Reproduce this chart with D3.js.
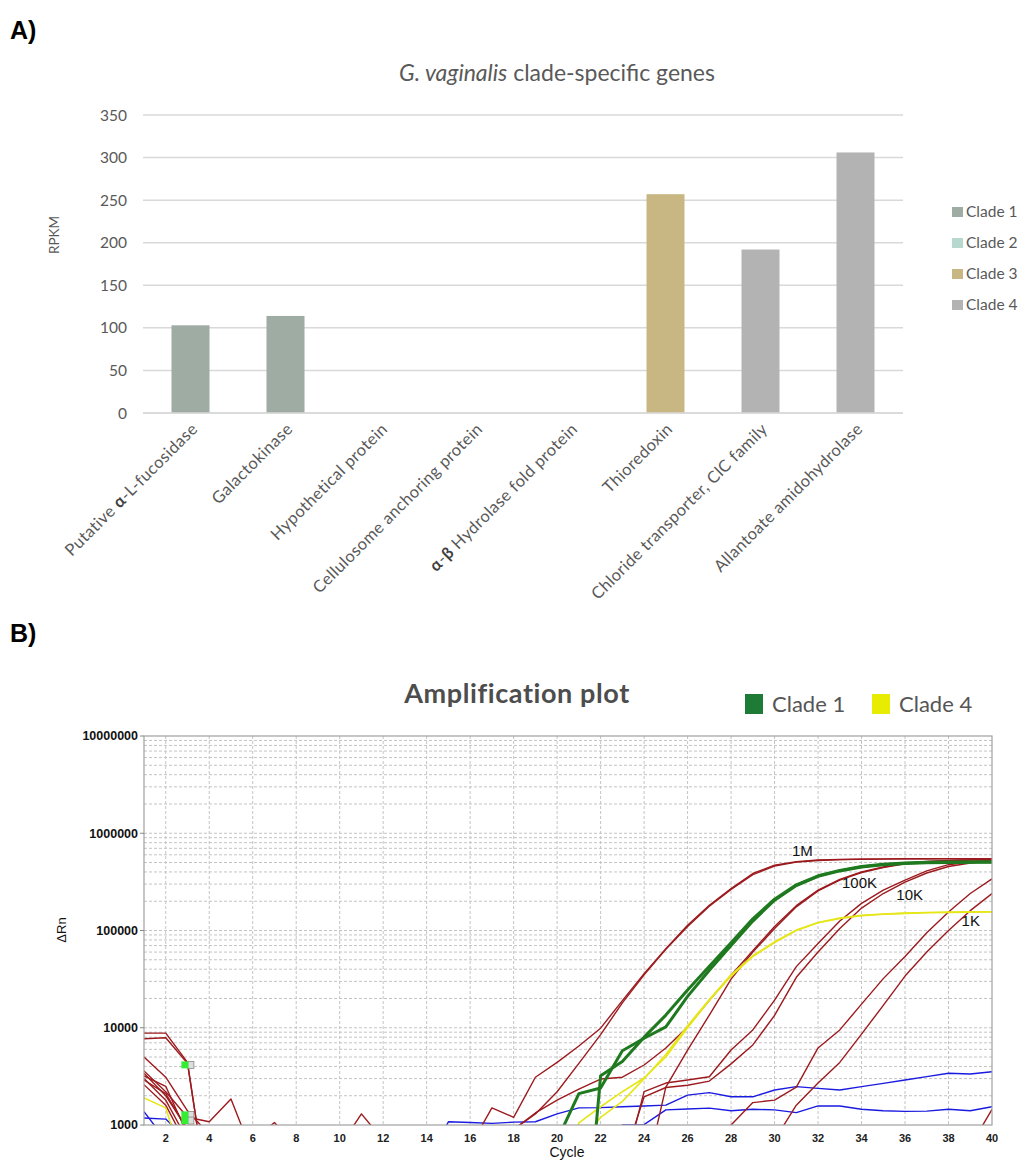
<!DOCTYPE html>
<html>
<head>
<meta charset="utf-8">
<script src="https://d3js.org/d3.v7.min.js"></script>
<style>
  body { margin: 0; background: #fff; }
  text { font-family: Lato, "Open Sans", sans-serif; }
  .b text { font-family: "Liberation Sans", Arial, sans-serif; }
</style>
</head>
<body>
<svg id="fig" width="1022" height="1160"></svg>
<script>
// ---------- panel A data ----------
var genes = ["Putative α-L-fucosidase", "Galactokinase", "Hypothetical protein",
  "Cellulosome anchoring protein", "α-β Hydrolase fold protein", "Thioredoxin",
  "Chloride transporter, ClC family", "Allantoate amidohydrolase"];
var rpkm = [103, 114, 0, 0, 0, 257, 192, 306];
var geneClade = ["Clade 1", "Clade 1", "Clade 2", "Clade 2", "Clade 2", "Clade 3", "Clade 4", "Clade 4"];
var clades = ["Clade 1", "Clade 2", "Clade 3", "Clade 4"];
var cladeColors = ["#9eaca4", "#b7d8cf", "#c9b783", "#b3b3b3"];
var rpkmTicks = [0, 50, 100, 150, 200, 250, 300, 350];

// ---------- panel B data (ΔRn per cycle 1..40) ----------
var cycles = d3.range(1, 41);
var cycleTicks = [2, 4, 6, 8, 10, 12, 14, 16, 18, 20, 22, 24, 26, 28, 30, 32, 34, 36, 38, 40];
var rnTicks = [1000, 10000, 100000, 1000000, 10000000];

var red1Ma = [8800, 8800, 4400, 150, 500, 500, 500, 500, 500, 500, 500, 500, 500, 500, 500, 600, 1500, 1200, 3100, 4400,
  6500, 9900, 19000, 36000, 65000, 113000, 182000, 270000, 386000, 470000, 510000, 530000, 538000, 542000, 545000, 546000, 547000, 548000, 548000, 548000];
var red1Mb = [7700, 7900, 4300, 150, 500, 700, 1060, 600, 500, 500, 500, 500, 500, 500, 500, 500, 500, 900, 1300, 2200,
  4300, 8500, 18000, 35000, 64000, 110000, 178000, 265000, 375000, 460000, 505000, 525000, 535000, 540000, 542000, 545000, 545000, 545000, 545000, 545000];
var red100Ka = [5000, 3100, 1400, 800, 500, 500, 500, 500, 500, 500, 500, 500, 500, 500, 500, 500, 500, 900, 1330, 1800,
  2340, 2970, 3100, 4140, 6190, 10200, 19200, 34600, 62000, 110000, 180000, 260000, 335000, 400000, 450000, 490000, 512000, 525000, 532000, 535000];
var red100Kb = [3600, 2200, 1200, 1080, 1850, 500, 500, 500, 500, 500, 500, 500, 500, 500, 500, 500, 500, 500, 500, 500,
  500, 500, 500, 260, 2450, 5900, 13500, 31600, 60000, 105000, 175000, 255000, 330000, 395000, 445000, 485000, 510000, 522000, 530000, 533000];
var red10Ka = [3400, 2000, 900, 500, 500, 500, 500, 500, 500, 600, 1300, 700, 500, 500, 500, 500, 500, 500, 500, 500,
  500, 500, 300, 2200, 2700, 2900, 3130, 5900, 9500, 19200, 42500, 73500, 125000, 190000, 260000, 330000, 410000, 475000, 510000, 528000];
var red10Kb = [3200, 2500, 800, 500, 500, 500, 500, 500, 500, 500, 500, 500, 500, 500, 500, 500, 500, 500, 500, 500,
  500, 500, 400, 1950, 2430, 2560, 2830, 4250, 6660, 13400, 33000, 60000, 105000, 170000, 240000, 315000, 390000, 455000, 495000, 520000];
var red1Ka = [3000, 1800, 700, 500, 500, 500, 500, 500, 500, 500, 500, 500, 500, 500, 500, 500, 500, 500, 500, 500,
  500, 500, 500, 500, 500, 500, 300, 1000, 1700, 1800, 2450, 6200, 9500, 17500, 32000, 54000, 95000, 155000, 240000, 340000];
var red1Kb = [2600, 1600, 600, 500, 500, 500, 500, 500, 500, 500, 500, 500, 500, 500, 500, 500, 500, 500, 500, 500,
  500, 500, 500, 500, 500, 500, 500, 500, 500, 700, 1600, 2700, 4400, 8600, 17000, 34000, 60000, 100000, 160000, 240000];
var redNtc = [2900, 2100, 900, 500, 500, 500, 500, 500, 500, 500, 500, 500, 500, 500, 500, 500, 500, 500, 500, 500,
  500, 500, 500, 500, 500, 500, 500, 500, 500, 500, 500, 500, 500, 500, 500, 500, 500, 500, 600, 1450];
var greenA = [500, 500, 500, 500, 500, 500, 500, 500, 500, 500, 500, 500, 500, 500, 500, 500, 500, 500, 500, 700,
  2100, 2400, 5800, 7800, 10200, 21000, 39000, 70000, 125000, 205000, 290000, 360000, 410000, 450000, 475000, 490000, 497000, 500000, 502000, 503000];
var greenB = [500, 500, 500, 500, 500, 500, 500, 500, 500, 500, 500, 500, 500, 500, 500, 500, 500, 500, 500, 500,
  10, 3200, 4500, 8000, 13500, 24500, 43000, 75000, 132000, 210000, 295000, 365000, 415000, 455000, 480000, 495000, 502000, 505000, 507000, 508000];
var yellowA = [1900, 1500, 300, 500, 500, 500, 500, 500, 500, 500, 500, 500, 500, 500, 500, 500, 500, 500, 500, 200,
  1050, 1540, 2200, 3040, 5000, 10000, 19200, 34000, 54000, 75000, 100000, 120000, 133000, 142000, 147000, 150000, 152000, 153000, 154000, 155000];
var yellowB = [500, 500, 500, 500, 500, 500, 500, 500, 500, 500, 500, 500, 500, 500, 500, 500, 500, 500, 500, 500,
  600, 1200, 1750, 3000, 5300, 10500, 19500, 35000, 55000, 76500, 101000, 121000, 134000, 143000, 148000, 151000, 153000, 155000, 156000, 156000];
var blueA = [1370, 700, 500, 500, 500, 500, 500, 500, 500, 500, 500, 500, 500, 400, 1080, 1060, 1040, 1070, 1080, 1300,
  1500, 1510, 1540, 1570, 1600, 2030, 2150, 1950, 1950, 2290, 2480, 2380, 2290, 2480, 2680, 2900, 3140, 3400, 3340, 3530];
var blueB = [1180, 1150, 700, 500, 500, 500, 500, 500, 500, 500, 500, 500, 500, 500, 500, 500, 500, 500, 500, 500,
  500, 500, 1000, 1010, 1430, 1460, 1490, 1400, 1450, 1430, 1340, 1570, 1570, 1450, 1400, 1380, 1390, 1450, 1400, 1540];

var redCurves = [red1Ma, red1Mb, red100Ka, red100Kb, red10Ka, red10Kb, red1Ka, red1Kb, redNtc];
var blueCurves = [blueA, blueB];
var yellowCurves = [yellowA, yellowB];
var greenCurves = [greenA, greenB];

var doseLabels = ["1M", "100K", "10K", "1K"];
var doseCycle = [30.8, 33.1, 35.6, 38.6];
var doseValue = [580000, 273000, 205000, 111000];

var markerCycle = [2.88, 2.88, 2.88];
var markerValue = [4150, 1270, 1110];

var svg = d3.select("#fig");

// ================= PANEL A =================
svg.append("text").attr("x", 10).attr("y", 39)
  .style("font-family", "'Liberation Sans', Arial, sans-serif")
  .style("font-weight", "bold").style("font-size", "25px").text("A)");

var ttl = svg.append("text").attr("x", 557).attr("y", 81)
  .attr("text-anchor", "middle").style("font-size", "23px").style("fill", "#595959");
ttl.append("tspan").style("font-style", "italic").text("G. vaginalis");
ttl.append("tspan").text(" clade-specific genes");

var xa = d3.scaleBand().domain(genes).range([143, 903]).paddingInner(0.6).paddingOuter(0.3);
var ya = d3.scaleLinear().domain([0, 350]).range([413, 115]);
var cladeColor = d3.scaleOrdinal().domain(clades).range(cladeColors);

var ga = svg.append("g");
ga.selectAll(".grid").data(rpkmTicks).enter().append("line")
  .attr("x1", 143).attr("x2", 903)
  .attr("y1", function(d) { return ya(d); }).attr("y2", function(d) { return ya(d); })
  .attr("stroke", "#d9d9d9").attr("stroke-width", 1.5);

ga.selectAll(".ylab").data(rpkmTicks).enter().append("text")
  .attr("x", 127).attr("y", function(d) { return ya(d); }).attr("dy", "0.36em")
  .attr("text-anchor", "end").style("font-size", "15.5px").style("fill", "#595959")
  .text(function(d) { return d; });

ga.selectAll(".bar").data(genes).enter().append("rect")
  .attr("x", function(d) { return xa(d); })
  .attr("width", xa.bandwidth())
  .attr("y", function(d, i) { return ya(rpkm[i]); })
  .attr("height", function(d, i) { return ya(0) - ya(rpkm[i]); })
  .attr("fill", function(d, i) { return cladeColor(geneClade[i]); });

ga.append("line").attr("x1", 143).attr("x2", 903).attr("y1", ya(0)).attr("y2", ya(0))
  .attr("stroke", "#d9d9d9").attr("stroke-width", 1.5);

ga.selectAll(".xlab").data(genes).enter().append("text")
  .attr("transform", function(d) { return "translate(" + (xa(d) + xa.bandwidth() / 2 + 4) + ",426) rotate(-45)"; })
  .attr("text-anchor", "end").attr("dy", "0.35em")
  .style("font-size", "16.5px").style("letter-spacing", "0.4px").style("fill", "#595959")
  .each(function(d) {
    var t = d3.select(this);
    d.split(/([αβ])/).forEach(function(part) {
      if (!part) return;
      var sp = t.append("tspan").text(part);
      if (part === "α" || part === "β") sp.style("font-weight", "bold").style("fill", "#404040");
    });
  });

svg.append("text").attr("transform", "translate(59,235) rotate(-90)")
  .attr("text-anchor", "middle").style("font-size", "13.5px").style("fill", "#595959").text("RPKM");

var lg = svg.append("g");
clades.forEach(function(c, i) {
  lg.append("rect").attr("x", 952).attr("y", 207 + i * 31).attr("width", 11).attr("height", 10)
    .attr("fill", cladeColors[i]);
  lg.append("text").attr("x", 966).attr("y", 212 + i * 31).attr("dy", "0.35em")
    .style("font-size", "15.5px").style("fill", "#595959").text(c);
});

// ================= PANEL B =================
svg.append("text").attr("x", 10).attr("y", 642)
  .style("font-family", "'Liberation Sans', Arial, sans-serif")
  .style("font-weight", "bold").style("font-size", "25px").text("B)");

svg.append("text").attr("x", 517).attr("y", 703).attr("text-anchor", "middle")
  .style("font-size", "27px").style("font-weight", "bold").style("letter-spacing", "0.6px")
  .style("fill", "#4d4d4d")
  .text("Amplification plot");

var legB = [["Clade 1", "#1e7b35", 745], ["Clade 4", "#e8ec00", 872]];
legB.forEach(function(l) {
  svg.append("rect").attr("x", l[2]).attr("y", 694).attr("width", 18).attr("height", 20).attr("fill", l[1]);
  svg.append("text").attr("x", l[2] + 27).attr("y", 712)
    .style("font-size", "22px").style("fill", "#555").text(l[0]);
});

var xb = d3.scaleLinear().domain([1, 40]).range([144, 992]);
var yb = d3.scaleLog().domain([1000, 10000000]).range([1125, 736]);

var gb = svg.append("g").attr("class", "b");

// grid
var minor = yb.ticks().filter(function(v) { return v > 1000 && v < 10000000; });
gb.selectAll(".hg").data(minor).enter().append("line")
  .attr("x1", xb(1)).attr("x2", xb(40))
  .attr("y1", function(d) { return yb(d); }).attr("y2", function(d) { return yb(d); })
  .attr("stroke", "#c4c4c4").attr("stroke-dasharray", "3,2");
gb.selectAll(".vg").data(cycleTicks.filter(function(c) { return c < 40; })).enter().append("line")
  .attr("x1", function(d) { return xb(d); }).attr("x2", function(d) { return xb(d); })
  .attr("y1", yb(10000000)).attr("y2", yb(1000))
  .attr("stroke", "#c4c4c4").attr("stroke-dasharray", "3,2");

gb.append("clipPath").attr("id", "plotclip").append("rect")
  .attr("x", xb(1)).attr("y", yb(10000000))
  .attr("width", xb(40) - xb(1)).attr("height", yb(1000) - yb(10000000));

var line = d3.line()
  .x(function(d, i) { return xb(cycles[i]); })
  .y(function(d) { return yb(d); });

var curves = gb.append("g").attr("clip-path", "url(#plotclip)");
function drawSet(set, color, w) {
  curves.selectAll(null).data(set).enter().append("path")
    .attr("d", line).attr("fill", "none").attr("stroke", color)
    .attr("stroke-width", w).attr("stroke-linejoin", "round");
}
drawSet(blueCurves, "#1a1ae0", 1.4);
drawSet(redCurves, "#9c1a1e", 1.4);
drawSet(yellowCurves, "#e6e61a", 1.6);
drawSet(greenCurves, "#1f7a1f", 3);

// baseline markers
markerCycle.forEach(function(c, i) {
  gb.append("rect").attr("x", xb(c) + 3).attr("y", yb(markerValue[i]) - 3.5).attr("width", 6).attr("height", 7)
    .attr("fill", "#ddd").attr("stroke", "#888").attr("stroke-width", 0.8);
  gb.append("rect").attr("x", xb(c) - 3.5).attr("y", yb(markerValue[i]) - 3.5).attr("width", 7).attr("height", 7)
    .attr("fill", "#33ee33");
});

// frame
gb.append("rect").attr("x", xb(1)).attr("y", yb(10000000))
  .attr("width", xb(40) - xb(1)).attr("height", yb(1000) - yb(10000000))
  .attr("fill", "none").attr("stroke", "#a0a0a0").attr("stroke-width", 1.2);

// axes labels
gb.selectAll(".yt").data(rnTicks).enter().append("line")
  .attr("x1", xb(1) - 4).attr("x2", xb(1))
  .attr("y1", function(d) { return yb(d); }).attr("y2", function(d) { return yb(d); })
  .attr("stroke", "#888");
gb.selectAll(".ytl").data(rnTicks).enter().append("text")
  .attr("x", xb(1) - 6).attr("y", function(d) { return yb(d); }).attr("dy", "0.35em")
  .attr("text-anchor", "end").style("font-size", "12.5px").style("font-weight", "bold").style("fill", "#111")
  .text(d3.format("d"));
gb.selectAll(".xtl").data(cycleTicks).enter().append("text")
  .attr("x", function(d) { return xb(d); }).attr("y", 1142)
  .attr("text-anchor", "middle").style("font-size", "11px").style("font-weight", "bold").style("fill", "#222")
  .text(function(d) { return d; });

gb.append("text").attr("x", 567).attr("y", 1157).attr("text-anchor", "middle")
  .style("font-size", "14px").style("fill", "#111").text("Cycle");
gb.append("text").attr("transform", "translate(66,930) rotate(-90)").attr("text-anchor", "middle")
  .style("font-size", "13px").style("fill", "#111").text("ΔRn");

gb.selectAll(".dose").data(doseLabels).enter().append("text")
  .attr("x", function(d, i) { return xb(doseCycle[i]); })
  .attr("y", function(d, i) { return yb(doseValue[i]); })
  .style("font-size", "15px").style("fill", "#111")
  .text(function(d) { return d; });
</script>
</body>
</html>
